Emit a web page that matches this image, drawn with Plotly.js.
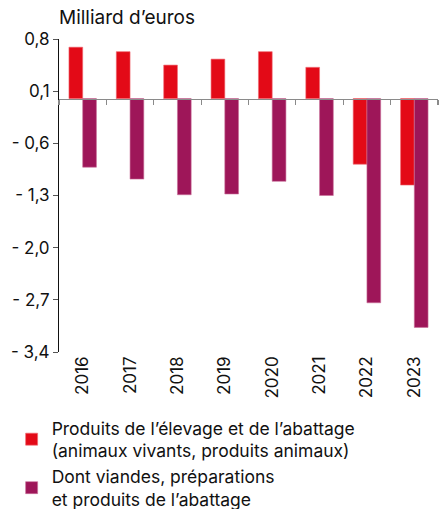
<!DOCTYPE html>
<html>
<head>
<meta charset="utf-8">
<script src="https://cdn.plot.ly/plotly-3.0.1.min.js"></script>
<style>html,body{margin:0;padding:0;background:#fff;}#chart{width:442px;height:509px;}</style>
</head>
<body>
<div id="chart"></div>
<script>
const years = ['2016','2017','2018','2019','2020','2021','2022','2023'];
const elevage = [0.69, 0.63, 0.45, 0.53, 0.63, 0.42, -0.88, -1.16];
const viandes = [-0.92, -1.08, -1.29, -1.28, -1.11, -1.30, -2.74, -3.07];
const seriesNames = [
  'Produits de l’élevage et de l’abattage<br>(animaux vivants, produits animaux)',
  'Dont viandes, préparations<br>et produits de l’abattage'
];
const yTickVals = [0.8, 0.1, -0.6, -1.3, -2.0, -2.7, -3.4];
const yTickText = ['0,8', '0,1', '- 0,6', '- 1,3', '- 2,0', '- 2,7', '- 3,4'];
const yRange = [-3.4, 0.8];

const FONT = 'Inter, Open Sans, sans-serif';
const zeroPos = (0 - yRange[0]) / (yRange[1] - yRange[0]);

const traces = [
  {type:'bar', x: years, y: elevage, name: seriesNames[0], xaxis:'x', yaxis:'y',
   marker:{color:'#E30A17', line:{color:'#F06A72', width:0.6}}},
  {type:'bar', x: years, y: viandes, name: seriesNames[1], xaxis:'x', yaxis:'y',
   marker:{color:'#9E1659', line:{color:'#C9709A', width:0.6}}},
  {type:'bar', x: years, y: years.map(()=>null), xaxis:'x2', yaxis:'y', showlegend:false, hoverinfo:'skip'}
];

const layout = {
  width: 442, height: 509,
  margin: {l: 59, r: 4, t: 39, b: 157, pad: 0, autoexpand: false},
  paper_bgcolor: '#fff', plot_bgcolor: '#fff',
  font: {family: FONT, color: '#111', size: 16},
  barmode: 'group', bargap: 0.42, bargroupgap: 0,
  title: {text: 'Milliard d’euros', x: 0, xref: 'paper', xanchor: 'left',
          y: 1, yref: 'container', yanchor: 'top', pad: {t: 11},
          font: {family: FONT, size: 19, color: '#111'}},
  xaxis: {
    type: 'category', anchor: 'free', position: zeroPos,
    showline: true, linecolor: '#8a8a8a', linewidth: 1.5,
    ticks: 'outside', tickson: 'boundaries', ticklen: 5, tickcolor: '#8a8a8a', tickwidth: 1.2,
    showticklabels: false, showgrid: false, zeroline: false, fixedrange: true, automargin: false
  },
  xaxis2: {
    type: 'category', overlaying: 'x', matches: 'x', anchor: 'y', side: 'bottom',
    showline: false, ticks: '', showgrid: false, zeroline: false, automargin: false,
    tickangle: -90, tickfont: {family: FONT, size: 17, color: '#111'}
  },
  yaxis: {
    range: yRange, tickvals: yTickVals, ticktext: yTickText, automargin: false,
    showline: true, linecolor: '#111', linewidth: 1,
    ticks: 'outside', ticklen: 5, tickcolor: '#555', tickwidth: 1,
    showgrid: false, zeroline: false,
    tickfont: {family: FONT, size: 17, color: '#111'}
  },
  showlegend: true,
  legend: {
    orientation: 'v', x: -0.125, xanchor: 'left', y: -0.185, yanchor: 'top',
    font: {family: FONT, size: 17.5, color: '#111'},
    itemwidth: 30, tracegroupgap: 2, bgcolor: 'rgba(0,0,0,0)'
  }
};

Plotly.newPlot('chart', traces, layout, {displayModeBar: false, staticPlot: true});
</script>
</body>
</html>
